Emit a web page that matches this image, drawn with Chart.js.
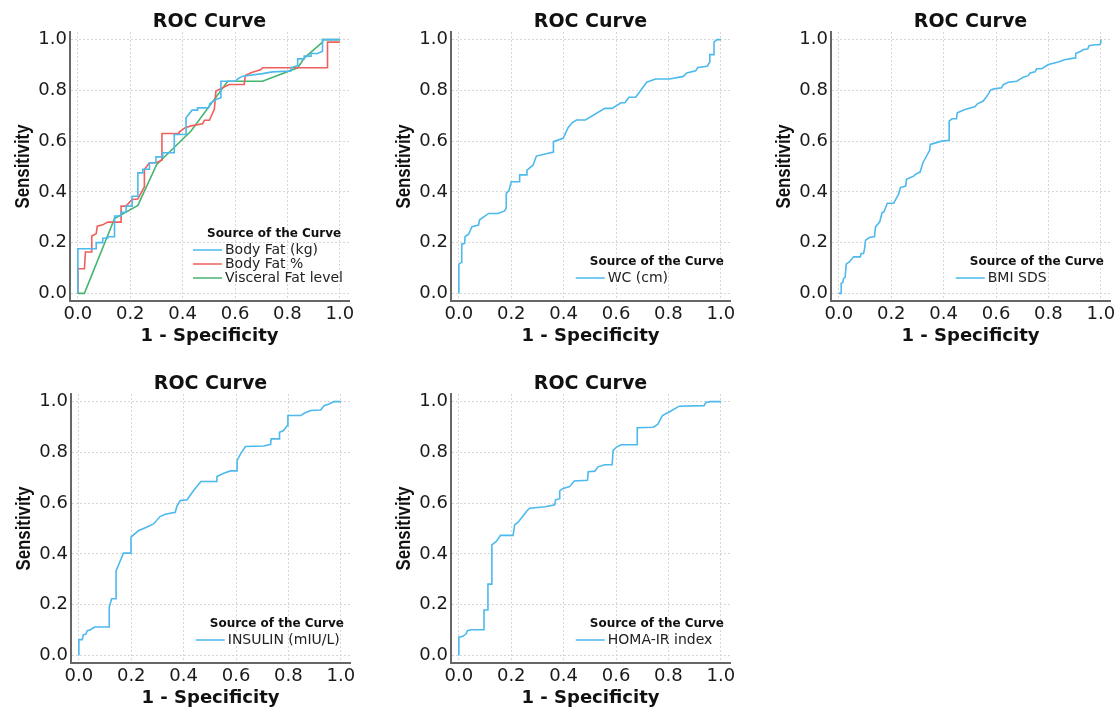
<!DOCTYPE html>
<html>
<head>
<meta charset="utf-8">
<title>ROC Curves</title>
<script src="https://cdn.jsdelivr.net/npm/chart.js@4.4.1/dist/chart.umd.min.js"></script>
<style>
  html, body { margin: 0; padding: 0; background: #fff; overflow: hidden; }
  #wrap { position: relative; width: 1116px; height: 707px; overflow: hidden; }
  canvas { position: absolute; }
</style>
</head>
<body>
<div id="wrap">
  <canvas id="rocFat" width="360" height="350" style="left:0px;top:0px"></canvas>
  <canvas id="rocWc" width="360" height="350" style="left:381px;top:0px"></canvas>
  <canvas id="rocBmi" width="360" height="350" style="left:761px;top:0px"></canvas>
  <canvas id="rocIns" width="360" height="350" style="left:1px;top:362px"></canvas>
  <canvas id="rocHoma" width="360" height="350" style="left:381px;top:362px"></canvas>
</div>
<script>
// values: x = 1 - specificity, y = sensitivity
const axisTicks = [0, 0.2, 0.4, 0.6, 0.8, 1.0];

const fatKgX = [0, 0, 0.070, 0.070, 0.095, 0.095, 0.114, 0.114, 0.140, 0.140,
  0.165, 0.165, 0.184, 0.184, 0.207, 0.207, 0.229, 0.229, 0.248, 0.248,
  0.273, 0.273, 0.298, 0.298, 0.324, 0.324, 0.368, 0.368, 0.413, 0.413,
  0.436, 0.457, 0.457, 0.499, 0.504, 0.527, 0.546, 0.546, 0.600, 0.610,
  0.629, 0.705, 0.743, 0.813, 0.813, 0.839, 0.839, 0.864, 0.864, 0.890,
  0.890, 0.915, 0.934, 0.934, 1.0];
const fatKgY = [0, 0.176, 0.176, 0.200, 0.200, 0.217, 0.217, 0.223, 0.223, 0.305,
  0.305, 0.320, 0.320, 0.344, 0.344, 0.383, 0.383, 0.475, 0.475, 0.489,
  0.489, 0.515, 0.515, 0.538, 0.538, 0.554, 0.554, 0.626, 0.626, 0.692,
  0.722, 0.722, 0.731, 0.731, 0.748, 0.764, 0.771, 0.836, 0.836, 0.845,
  0.856, 0.866, 0.873, 0.876, 0.889, 0.898, 0.924, 0.924, 0.935, 0.935,
  0.945, 0.945, 0.954, 1.0, 1.0];

const fatPctX = [0, 0, 0.025, 0.029, 0.051, 0.053, 0.070, 0.074, 0.095, 0.114,
  0.165, 0.165, 0.184, 0.207, 0.229, 0.254, 0.254, 0.273, 0.298, 0.321,
  0.321, 0.387, 0.387, 0.410, 0.432, 0.476, 0.483, 0.502, 0.521, 0.527,
  0.578, 0.635, 0.639, 0.661, 0.699, 0.705, 0.953, 0.953, 1.0];
const fatPctY = [0, 0.097, 0.097, 0.163, 0.163, 0.226, 0.235, 0.265, 0.270, 0.281,
  0.281, 0.344, 0.344, 0.370, 0.372, 0.420, 0.488, 0.515, 0.515, 0.525,
  0.630, 0.630, 0.636, 0.653, 0.660, 0.668, 0.682, 0.682, 0.725, 0.797,
  0.823, 0.823, 0.858, 0.869, 0.882, 0.889, 0.889, 0.990, 0.990];

const visceralX = [0, 0.025, 0.140, 0.229, 0.301, 0.432, 0.572, 0.705, 0.839, 0.865, 0.934, 0.934, 1.0];
const visceralY = [0, 0, 0.295, 0.347, 0.508, 0.640, 0.836, 0.836, 0.889, 0.928, 0.990, 1.0, 1.0];

const wcX = [0, 0, 0.009, 0.011, 0.022, 0.024, 0.037, 0.050, 0.075, 0.079,
  0.114, 0.149, 0.175, 0.181, 0.181, 0.191, 0.200, 0.232, 0.232, 0.260,
  0.260, 0.283, 0.296, 0.361, 0.361, 0.398, 0.417, 0.432, 0.449, 0.483,
  0.557, 0.585, 0.619, 0.634, 0.649, 0.675, 0.717, 0.751, 0.804, 0.857,
  0.870, 0.904, 0.912, 0.948, 0.958, 0.958, 0.974, 0.974, 0.985, 1.0];
const wcY = [0, 0.115, 0.122, 0.194, 0.197, 0.224, 0.233, 0.263, 0.269, 0.290,
  0.315, 0.315, 0.325, 0.338, 0.394, 0.405, 0.440, 0.440, 0.467, 0.467,
  0.486, 0.505, 0.541, 0.557, 0.598, 0.611, 0.653, 0.672, 0.683, 0.683,
  0.729, 0.729, 0.751, 0.751, 0.773, 0.773, 0.832, 0.845, 0.845, 0.855,
  0.869, 0.877, 0.890, 0.895, 0.912, 0.941, 0.941, 0.990, 1.0, 1.0];

const bmiX = [0, 0.009, 0.009, 0.015, 0.018, 0.024, 0.028, 0.041, 0.056, 0.082,
  0.085, 0.094, 0.098, 0.102, 0.117, 0.136, 0.140, 0.156, 0.165, 0.172,
  0.185, 0.209, 0.228, 0.235, 0.255, 0.258, 0.287, 0.292, 0.310, 0.321,
  0.347, 0.349, 0.392, 0.421, 0.421, 0.432, 0.449, 0.452, 0.481, 0.519,
  0.529, 0.551, 0.570, 0.579, 0.592, 0.621, 0.628, 0.647, 0.679, 0.704,
  0.723, 0.730, 0.749, 0.755, 0.774, 0.800, 0.838, 0.861, 0.902, 0.904,
  0.923, 0.934, 0.950, 0.955, 0.978, 0.994, 1.0, 1.0];
const bmiY = [0, 0, 0.040, 0.043, 0.059, 0.063, 0.115, 0.125, 0.144, 0.144,
  0.157, 0.157, 0.174, 0.210, 0.220, 0.224, 0.262, 0.282, 0.318, 0.321,
  0.355, 0.355, 0.391, 0.417, 0.423, 0.450, 0.463, 0.469, 0.478, 0.515,
  0.565, 0.587, 0.600, 0.603, 0.679, 0.688, 0.688, 0.712, 0.725, 0.735,
  0.747, 0.758, 0.784, 0.801, 0.806, 0.810, 0.823, 0.832, 0.836, 0.852,
  0.858, 0.869, 0.873, 0.885, 0.885, 0.902, 0.912, 0.921, 0.928, 0.945,
  0.954, 0.961, 0.963, 0.976, 0.980, 0.980, 0.987, 1.0];

const insulinX = [0, 0, 0.013, 0.017, 0.027, 0.032, 0.045, 0.049, 0.061, 0.116,
  0.116, 0.125, 0.142, 0.142, 0.157, 0.170, 0.199, 0.199, 0.227, 0.256,
  0.285, 0.310, 0.330, 0.368, 0.374, 0.387, 0.413, 0.438, 0.466, 0.524,
  0.527, 0.553, 0.579, 0.604, 0.604, 0.619, 0.636, 0.706, 0.732, 0.734,
  0.764, 0.766, 0.780, 0.796, 0.798, 0.847, 0.860, 0.885, 0.923, 0.936,
  0.955, 0.974, 1.0];
const insulinY = [0, 0.062, 0.062, 0.081, 0.084, 0.097, 0.101, 0.105, 0.112, 0.112,
  0.190, 0.223, 0.223, 0.333, 0.370, 0.403, 0.403, 0.466, 0.491, 0.504,
  0.518, 0.547, 0.556, 0.564, 0.587, 0.610, 0.613, 0.650, 0.685, 0.685,
  0.705, 0.718, 0.727, 0.727, 0.768, 0.797, 0.823, 0.825, 0.832, 0.853,
  0.853, 0.879, 0.885, 0.906, 0.945, 0.945, 0.954, 0.965, 0.967, 0.984,
  0.991, 1.0, 1.0];

const homaX = [0, 0, 0.015, 0.028, 0.032, 0.047, 0.096, 0.096, 0.111, 0.111,
  0.124, 0.126, 0.143, 0.159, 0.207, 0.213, 0.226, 0.239, 0.258, 0.270,
  0.330, 0.366, 0.369, 0.383, 0.385, 0.398, 0.423, 0.440, 0.491, 0.494,
  0.519, 0.531, 0.557, 0.585, 0.589, 0.602, 0.619, 0.681, 0.681, 0.742,
  0.759, 0.777, 0.806, 0.841, 0.936, 0.943, 0.959, 1.0];
const homaY = [0, 0.072, 0.075, 0.085, 0.097, 0.101, 0.101, 0.179, 0.179, 0.281,
  0.281, 0.435, 0.449, 0.473, 0.473, 0.514, 0.525, 0.541, 0.567, 0.580,
  0.586, 0.593, 0.613, 0.617, 0.648, 0.658, 0.665, 0.687, 0.690, 0.724,
  0.726, 0.743, 0.751, 0.751, 0.808, 0.821, 0.830, 0.830, 0.897, 0.899,
  0.910, 0.945, 0.961, 0.982, 0.984, 0.997, 1.0, 1.0];

const BLUE = '#4db9ec';
const RED = '#ef5f5b';
const GREEN = '#45b46f';

// title above plot, narrow y title, and "Source of the Curve" legend in lower right
const panelDecor = {
  id: 'panelDecor',
  afterDatasetsDraw(chart, args, opts) {
    const ctx = chart.ctx;
    const area = chart.chartArea;
    ctx.save();
    ctx.fillStyle = '#111';
    ctx.textBaseline = 'middle';
    ctx.textAlign = 'center';
    ctx.font = 'bold 19px "DejaVu Sans", sans-serif';
    ctx.fillText(opts.title, (area.left + area.right) / 2, area.top - 9.5);

    // y title: the original uses a tall, condensed bold face
    ctx.save();
    ctx.translate(23, (area.top + area.bottom) / 2);
    ctx.rotate(-Math.PI / 2);
    ctx.scale(0.8, 1);
    ctx.font = 'bold 21px "Liberation Sans", Arial, sans-serif';
    ctx.fillText(opts.yTitle, 0, 0);
    ctx.restore();

    const sets = chart.data.datasets;
    ctx.font = 'bold 12px "DejaVu Sans", sans-serif';
    const titleW = ctx.measureText(opts.legendTitle).width;
    ctx.font = '14px "DejaVu Sans", sans-serif';
    let itemW = 0;
    sets.forEach(ds => { itemW = Math.max(itemW, ctx.measureText(ds.label).width); });
    const boxW = Math.max(titleW + 14, 32 + itemW);
    const x0 = area.right - 6 - boxW;
    const n = sets.length;
    ctx.textAlign = 'left';
    sets.forEach((ds, i) => {
      const y = area.bottom - 23 - 14 * (n - 1 - i);
      ctx.strokeStyle = ds.borderColor;
      ctx.lineWidth = 1.5;
      ctx.beginPath();
      ctx.moveTo(x0, y);
      ctx.lineTo(x0 + 29, y);
      ctx.stroke();
      ctx.fillStyle = '#222';
      ctx.fillText(ds.label, x0 + 32, y);
    });
    ctx.font = 'bold 12px "DejaVu Sans", sans-serif';
    ctx.fillStyle = '#111';
    ctx.fillText(opts.legendTitle, x0 + 14, area.bottom - 23 - 14 * (n - 1) - 16);
    ctx.restore();
  }
};

function fixTicks(scale) {
  scale.ticks = axisTicks.map(v => ({ value: v }));
}

function rocChart(canvasId, series) {
  const gridStyle = {
    color: '#d6d6d6',
    lineWidth: 1,
    drawTicks: false
  };
  return new Chart(document.getElementById(canvasId), {
    type: 'line',
    data: {
      datasets: series.map(s => ({
        label: s.label,
        data: s.x.map((v, i) => ({ x: v, y: s.y[i] })),
        borderColor: s.color,
        borderWidth: 1.6,
        pointRadius: 0,
        fill: false,
        tension: 0
      }))
    },
    options: {
      responsive: false,
      animation: false,
      layout: { padding: { top: 32, right: 11, left: 0, bottom: 0 } },
      scales: {
        x: {
          type: 'linear',
          min: -0.03,
          max: 1.035,
          afterBuildTicks: fixTicks,
          afterFit(scale) { scale.height = 49; scale.paddingLeft = 0; scale.paddingRight = 0; },
          grid: gridStyle,
          border: { display: true, color: '#666', width: 2, dash: [2, 2] },
          ticks: {
            padding: 3,
            color: '#1a1a1a',
            font: { family: '"DejaVu Sans", sans-serif', size: 18 },
            callback: v => v.toFixed(1)
          },
          title: {
            display: true,
            text: '1 - Specificity',
            color: '#111',
            font: { family: '"DejaVu Sans", sans-serif', size: 18, weight: 'bold' },
            padding: { top: 0, bottom: 3 }
          }
        },
        y: {
          min: -0.03,
          max: 1.03,
          afterBuildTicks: fixTicks,
          afterFit(scale) { scale.width = 70; scale.paddingTop = 0; scale.paddingBottom = 0; },
          grid: gridStyle,
          border: { display: true, color: '#666', width: 2, dash: [2, 2] },
          ticks: {
            padding: 3,
            color: '#1a1a1a',
            font: { family: '"DejaVu Sans", sans-serif', size: 18 },
            callback: v => v.toFixed(1)
          },
          title: { display: false }
        }
      },
      plugins: {
        legend: { display: false },
        tooltip: { enabled: false },
        panelDecor: { title: 'ROC Curve', yTitle: 'Sensitivity', legendTitle: 'Source of the Curve' }
      }
    },
    plugins: [panelDecor]
  });
}

rocChart('rocFat', [
  { label: 'Body Fat (kg)', x: fatKgX, y: fatKgY, color: BLUE },
  { label: 'Body Fat %', x: fatPctX, y: fatPctY, color: RED },
  { label: 'Visceral Fat level', x: visceralX, y: visceralY, color: GREEN }
]);
rocChart('rocWc', [{ label: 'WC (cm)', x: wcX, y: wcY, color: BLUE }]);
rocChart('rocBmi', [{ label: 'BMI SDS', x: bmiX, y: bmiY, color: BLUE }]);
rocChart('rocIns', [{ label: 'INSULIN (mIU/L)', x: insulinX, y: insulinY, color: BLUE }]);
rocChart('rocHoma', [{ label: 'HOMA-IR index', x: homaX, y: homaY, color: BLUE }]);
</script>
</body>
</html>
